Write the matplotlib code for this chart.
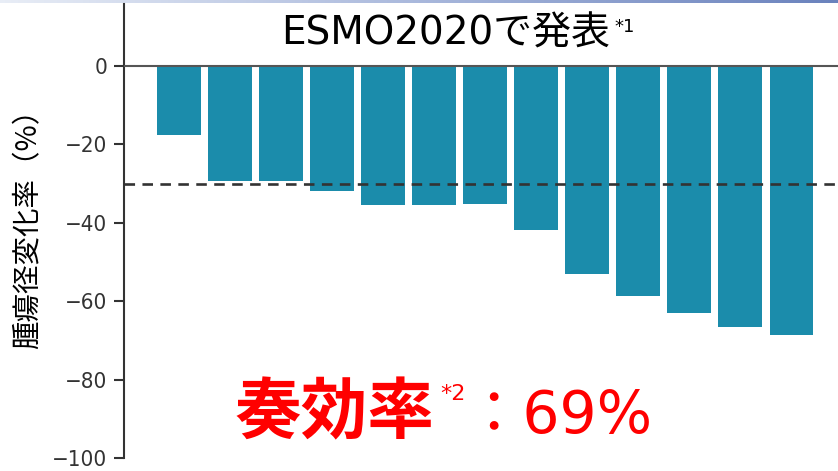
import numpy as np
import matplotlib
matplotlib.use('Agg')
import matplotlib.pyplot as plt
from matplotlib import font_manager
from matplotlib.colors import LinearSegmentedColormap

# tumour size change per patient (%), sorted
patients = np.arange(13)
change = [-17.6, -29.3, -29.3, -32.0, -35.4, -35.4, -35.3, -41.8, -53.0, -58.8, -63.0, -66.6, -68.6]
threshold = -30
yticks = [0, -20, -40, -60, -80, -100]
ytick_labels = ['0', '\u221220', '\u221240', '\u221260', '\u221280', '\u2212100']

title = 'ESMO2020で発表'
ylabel = '腫瘍径変化率（%）'
rate_label = '奏効率'
rate_value = '：69%'

bar_color = '#1b8cab'
red = '#ff0000'

# narrow face for the tick numbers if one is around
fonts = font_manager.fontManager.ttflist
narrow = [f.name for f in fonts if f.stretch in ('condensed', 'semi-condensed', 'extra-condensed')
	or 'Narrow' in f.name or 'Condensed' in f.name]
tick_font = narrow[0] if narrow else 'DejaVu Sans'
cjk = 'Noto Sans CJK JP'

W, H = 838, 471
fig = plt.figure(figsize=(W/100, H/100), dpi=100)

# thin gradient band along the top edge
band = fig.add_axes([0, 1 - 3/H, 1, 3/H])
cmap = LinearSegmentedColormap.from_list('band', ['#e8edf6', '#a9b8dc', '#6a82bd'])
band.imshow(np.linspace(0, 1, 256)[None, :], aspect='auto', cmap=cmap)
band.axis('off')

ax = fig.add_axes([124/W, 13/H, 1 - 124/W, (458 - 4)/H])
ax.bar(patients, change, width=0.86, color=bar_color, zorder=2)
ax.axhline(0, color='#555555', lw=1.5, zorder=3)
ax.axhline(threshold, color='#333333', lw=1.9, linestyle=(0, (4, 2.8)), zorder=4)

ax.set_xlim(-1.07, 12.91)
ax.set_ylim(-100, (66 - 4)/3.92)
ax.set_xticks([])
ax.set_yticks(yticks)
ax.set_yticklabels(ytick_labels, fontfamily=tick_font, fontstretch='condensed', fontsize=16, color='#333333')
ax.tick_params(axis='y', direction='out', length=7, width=1.5, color='#333333', pad=5)
for s in ['top', 'right', 'bottom']:
	ax.spines[s].set_visible(False)
ax.spines['left'].set_color('#333333')
ax.spines['left'].set_linewidth(1.5)

# y label
fig.text(28/W, 1 - 222/H, ylabel, rotation=90, ha='center', va='center',
	fontsize=20.5, family=[cjk], color='black')

# title with footnote mark
t = fig.text(446/W, 1 - 45/H, title, ha='center', va='baseline',
	fontsize=28, family=['DejaVu Sans', cjk], color='black')
ax.annotate('*1', xy=(1, 1), xycoords=t, xytext=(3, -12), textcoords='offset points',
	ha='left', va='baseline', fontsize=13, family=['DejaVu Sans'], color='black')

# response rate
r = fig.text(235/W, 1 - 433/H, rate_label, ha='left', va='baseline',
	fontsize=48, fontweight='bold', family=[cjk], color=red)
ax.annotate('*2', xy=(1, 0), xycoords=r, xytext=(4, 34), textcoords='offset points',
	ha='left', va='baseline', fontsize=16, family=['DejaVu Sans'], color=red)
fig.text(464/W, 1 - 433/H, rate_value, ha='left', va='baseline',
	fontsize=42, family=['DejaVu Sans', cjk], color=red)

fig.savefig('out.png', dpi=100)
